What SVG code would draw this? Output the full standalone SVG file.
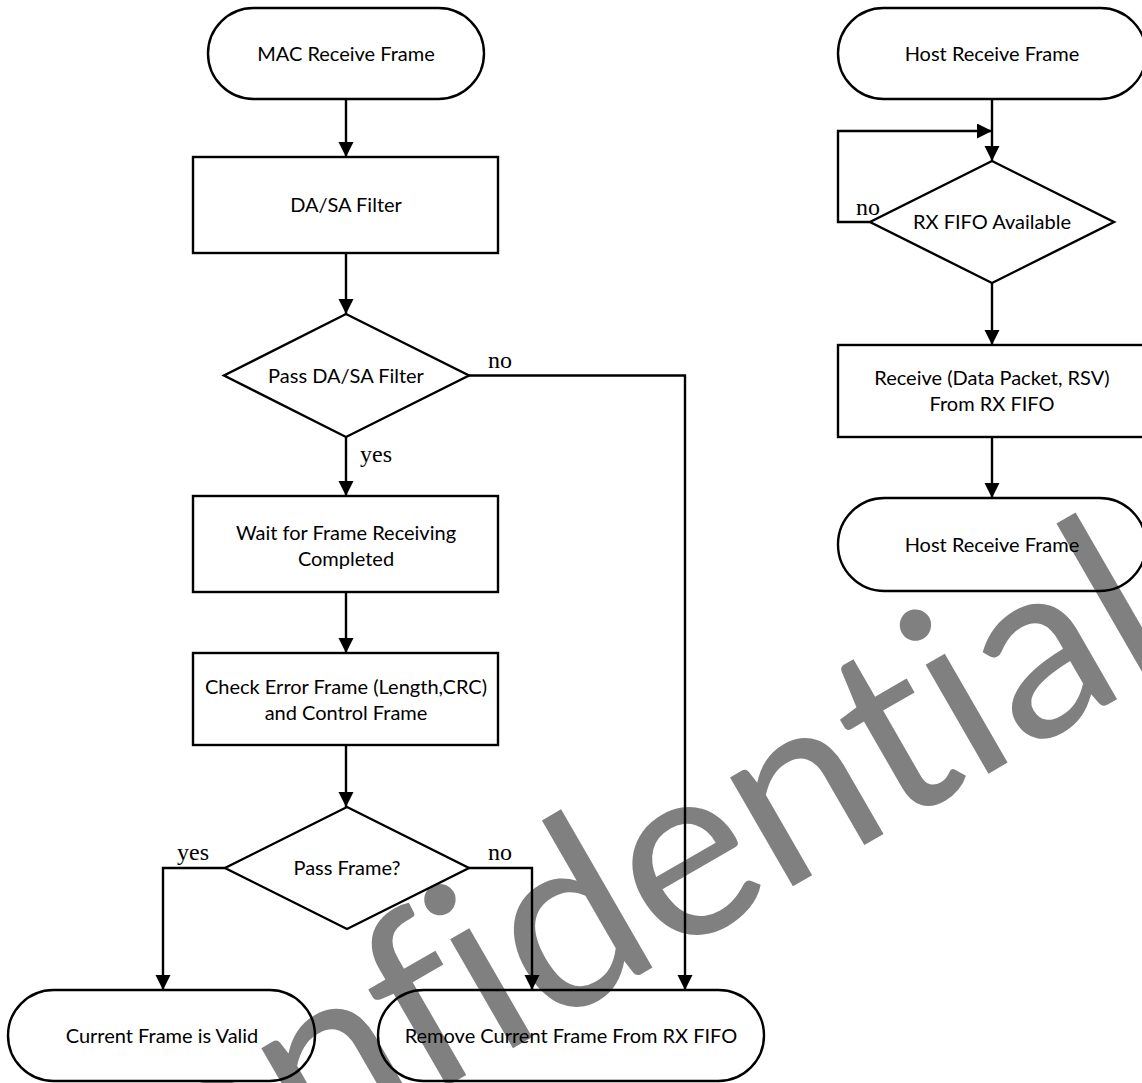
<svg xmlns="http://www.w3.org/2000/svg" width="1142" height="1083" viewBox="0 0 1142 1083">
<defs>
<marker id="ah" markerUnits="userSpaceOnUse" markerWidth="16" markerHeight="16" refX="15" refY="7.5" orient="auto">
<path d="M0,0 L15,7.5 L0,15 z" fill="#000"/>
</marker>
</defs>
<style>
.s{fill:none;stroke:#000;stroke-width:2.4}
.t{font-family:Lato,"Liberation Sans",sans-serif;font-size:20px;fill:#000;text-anchor:middle}
.l{font-family:"Liberation Serif",serif;font-size:24px;fill:#000}
.c{fill:none;stroke:#000;stroke-width:2.4;marker-end:url(#ah)}
.w{font-family:Lato,"Liberation Sans",sans-serif;font-size:248px;fill:#808080;text-anchor:middle;font-variant-ligatures:none}
</style>
<rect width="1142" height="1083" fill="#fff"/>
<text class="w" transform="translate(998,768) rotate(-30)" x="-1001 -863 -726.5 -618.6 -549 -451 -318 -185 -73.5 0 92 184" y="0">Confidential</text>

<g id="mac-receive">
<rect class="s" x="208" y="8" width="276" height="91" rx="45.5"/>
<text class="t" x="346" y="61">MAC Receive Frame</text>
</g>
<g id="dasa-filter">
<rect class="s" x="193" y="157" width="305" height="96"/>
<text class="t" x="346" y="212">DA/SA Filter</text>
</g>
<g id="pass-dasa">
<polygon class="s" points="346,314 469,375.5 346,437 224,375.5"/>
<text class="t" x="346" y="383">Pass DA/SA Filter</text>
</g>
<g id="wait-frame">
<rect class="s" x="193" y="496" width="305" height="96"/>
<text class="t" x="346" y="540">Wait for Frame Receiving</text>
<text class="t" x="346" y="566">Completed</text>
</g>
<g id="check-error">
<rect class="s" x="193" y="653" width="305" height="92"/>
<text class="t" x="346" y="694">Check Error Frame (Length,CRC)</text>
<text class="t" x="346" y="720">and Control Frame</text>
</g>
<g id="pass-frame">
<polygon class="s" points="347,807 469,868 347,929 225,868"/>
<text class="t" x="347" y="875">Pass Frame?</text>
</g>
<g id="frame-valid">
<rect class="s" x="8" y="990" width="307" height="91" rx="45.5"/>
<text class="t" x="162" y="1043">Current Frame is Valid</text>
</g>
<g id="remove-frame">
<rect class="s" x="378" y="990" width="386" height="91" rx="45.5"/>
<text class="t" x="571" y="1043">Remove Current Frame From RX FIFO</text>
</g>

<g id="host-receive-top">
<rect class="s" x="838" y="8" width="308" height="91" rx="45.5"/>
<text class="t" x="992" y="61">Host Receive Frame</text>
</g>
<g id="rx-fifo-available">
<polygon class="s" points="992,161 1114,222 992,283 870,222"/>
<text class="t" x="992" y="229">RX FIFO Available</text>
</g>
<g id="receive-data">
<rect class="s" x="838" y="345" width="308" height="92"/>
<text class="t" x="992" y="385">Receive (Data Packet, RSV)</text>
<text class="t" x="992" y="411">From RX FIFO</text>
</g>
<g id="host-receive-bottom">
<rect class="s" x="838" y="498" width="308" height="93" rx="46.5"/>
<text class="t" x="992" y="552">Host Receive Frame</text>
</g>

<g id="connectors">
<path class="c" d="M346,99 L346,157"/>
<path class="c" d="M346,253 L346,314"/>
<path class="c" d="M346,437 L346,496"/>
<path class="c" d="M346,592 L346,653"/>
<path class="c" d="M346,745 L346,807"/>
<path class="c" d="M469,375.5 L685,375.5 L685,990"/>
<path class="c" d="M225,868 L163,868 L163,990"/>
<path class="c" d="M469,868 L532,868 L532,990"/>
<path class="c" d="M992,99 L992,161"/>
<path class="c" d="M870,222 L838,222 L838,131 L992,131"/>
<path class="c" d="M992,283 L992,345"/>
<path class="c" d="M992,437 L992,498"/>
<text class="l" x="488" y="368">no</text>
<text class="l" x="360" y="462">yes</text>
<text class="l" x="177" y="860">yes</text>
<text class="l" x="488" y="860">no</text>
<text class="l" x="856" y="215">no</text>
</g>
</svg>
